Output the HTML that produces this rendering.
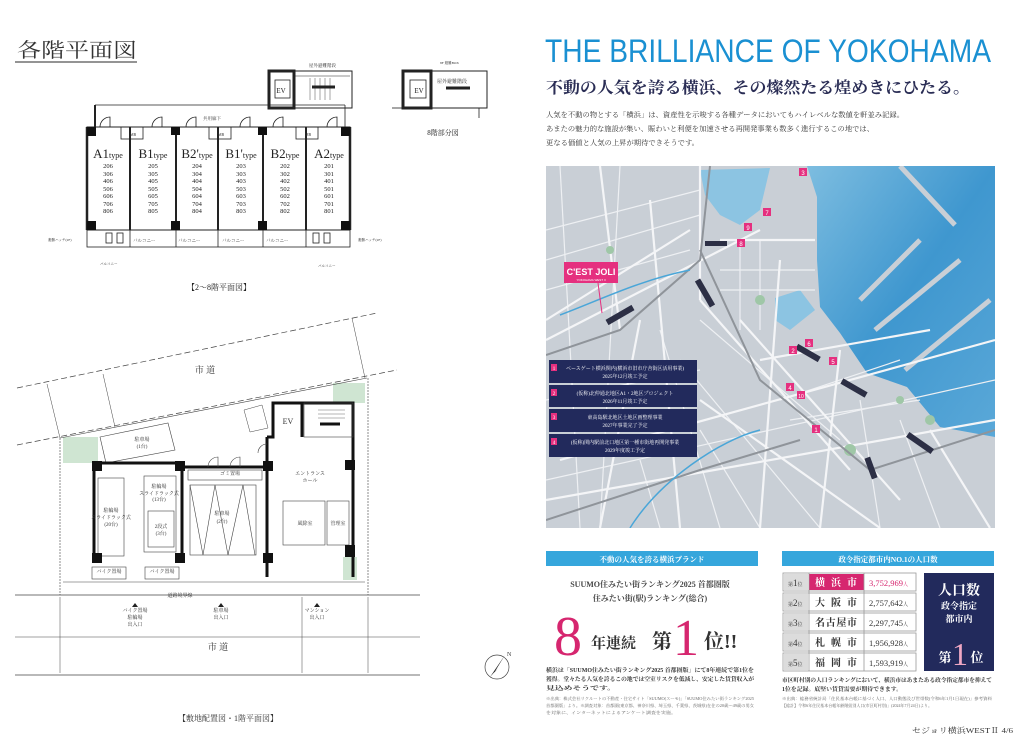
<!DOCTYPE html>
<html><head><meta charset="utf-8"><style>
body{margin:0;width:1028px;height:744px;background:#fff;overflow:hidden;position:relative;font-family:"Liberation Serif","Noto Serif CJK SC",serif;color:#333}
svg{position:absolute;left:0;top:0}
.s{font-family:"Liberation Serif","Noto Serif CJK SC",serif}
</style></head><body>
<svg width="1028" height="744" viewBox="0 0 1028 744" xmlns="http://www.w3.org/2000/svg">
<text x="17" y="57" class="s" font-size="20" fill="#333" textLength="120" lengthAdjust="spacingAndGlyphs">各階平面図</text>
<line x1="15" y1="62" x2="137" y2="62" stroke="#555" stroke-width="1.2"/>

<g stroke="#222" fill="none">
 <rect x="269" y="71" width="83" height="37" stroke-width="1"/>
 <rect x="269" y="71" width="25" height="37" stroke-width="3"/>
 <rect x="275" y="80" width="15" height="18" stroke-width="0.8"/>
 <line x1="312" y1="87" x2="335" y2="87" stroke-width="3"/>
 <g stroke-width="0.4"><line x1="310" y1="78" x2="310" y2="100"/><line x1="315" y1="78" x2="315" y2="100"/><line x1="320" y1="78" x2="320" y2="100"/><line x1="325" y1="78" x2="325" y2="100"/><line x1="330" y1="78" x2="330" y2="100"/></g>
 <line x1="294" y1="76" x2="350" y2="76" stroke-width="0.5"/>
 <line x1="95" y1="105" x2="345" y2="105" stroke-width="0.8"/>
 <line x1="95" y1="105" x2="95" y2="127" stroke-width="2"/>
 <line x1="345" y1="105" x2="345" y2="127" stroke-width="0.8"/>
 <rect x="87" y="127" width="263" height="103" stroke-width="1"/>
 <rect x="87" y="230" width="263" height="17" stroke-width="0.8"/>
 <line x1="87" y1="127" x2="87" y2="230" stroke-width="2.5"/>
 <line x1="350" y1="127" x2="350" y2="230" stroke-width="2.5"/>
 <g stroke-width="2">
  <line x1="130" y1="127" x2="130" y2="230"/><line x1="176" y1="127" x2="176" y2="230"/>
  <line x1="218" y1="127" x2="218" y2="230"/><line x1="263" y1="127" x2="263" y2="230"/>
  <line x1="306" y1="127" x2="306" y2="230"/>
 </g>
 <g stroke-width="0.8">
  <rect x="121" y="127" width="22" height="12"/><rect x="209" y="127" width="22" height="12"/><rect x="296" y="127" width="22" height="12"/>
  <line x1="130" y1="230" x2="130" y2="247"/><line x1="176" y1="230" x2="176" y2="247"/><line x1="218" y1="230" x2="218" y2="247"/><line x1="263" y1="230" x2="263" y2="247"/><line x1="306" y1="230" x2="306" y2="247"/>
  <path d="M100 127 A10 10 0 0 1 110 117 L110 127"/><path d="M152 127 A10 10 0 0 1 162 117 L162 127"/>
  <path d="M186 127 A10 10 0 0 1 196 117 L196 127"/><path d="M240 127 A10 10 0 0 1 250 117 L250 127"/>
  <path d="M273 127 A10 10 0 0 1 283 117 L283 127"/><path d="M327 127 A10 10 0 0 1 337 117 L337 127"/>
  <rect x="106" y="233" width="6" height="10"/><rect x="117" y="233" width="6" height="10"/><rect x="313" y="233" width="6" height="10"/><rect x="324" y="233" width="6" height="10"/>
 </g>
</g>
<g fill="#111">
 <rect x="87" y="127" width="9" height="9"/><rect x="341" y="127" width="9" height="9"/>
 <rect x="87" y="221" width="9" height="9"/><rect x="341" y="221" width="9" height="9"/>
 <rect x="171" y="127" width="9" height="8"/><rect x="258" y="127" width="9" height="8"/>
 <rect x="171" y="221" width="9" height="9"/><rect x="258" y="221" width="9" height="9"/>
</g>
<g class="s" font-size="4.5" fill="#333">
 <text x="130" y="136" font-size="4">MB</text><text x="218" y="136" font-size="4">MB</text><text x="305" y="136" font-size="4">MB</text>
 <text x="203" y="120">共用廊下</text>
 <text x="309" y="67">屋外避難階段</text>
 <text x="133" y="242">バルコニー</text><text x="178" y="242">バルコニー</text><text x="222" y="242">バルコニー</text><text x="266" y="242">バルコニー</text>
 <text x="48" y="241" font-size="3.5">避難ハッチ(2F)</text><text x="358" y="241" font-size="3.5">避難ハッチ(2F)</text>
 <text x="100" y="265" font-size="3.5">バルコニー</text><text x="318" y="267" font-size="3.5">バルコニー</text>
</g>
<g class="s" fill="#222" text-anchor="middle">
 <g font-size="13"><text x="108" y="158">A1<tspan font-size="8">type</tspan></text><text x="153" y="158">B1<tspan font-size="8">type</tspan></text><text x="197" y="158">B2'<tspan font-size="8">type</tspan></text><text x="241" y="158">B1'<tspan font-size="8">type</tspan></text><text x="285" y="158">B2<tspan font-size="8">type</tspan></text><text x="329" y="158">A2<tspan font-size="8">type</tspan></text></g>
 <g font-size="6.5">
  <text x="108" y="168">206</text><text x="108" y="176">306</text><text x="108" y="183">406</text><text x="108" y="191">506</text><text x="108" y="198">606</text><text x="108" y="206">706</text><text x="108" y="213">806</text>
  <text x="153" y="168">205</text><text x="153" y="176">305</text><text x="153" y="183">405</text><text x="153" y="191">505</text><text x="153" y="198">605</text><text x="153" y="206">705</text><text x="153" y="213">805</text>
  <text x="197" y="168">204</text><text x="197" y="176">304</text><text x="197" y="183">404</text><text x="197" y="191">504</text><text x="197" y="198">604</text><text x="197" y="206">704</text><text x="197" y="213">804</text>
  <text x="241" y="168">203</text><text x="241" y="176">303</text><text x="241" y="183">403</text><text x="241" y="191">503</text><text x="241" y="198">603</text><text x="241" y="206">703</text><text x="241" y="213">803</text>
  <text x="285" y="168">202</text><text x="285" y="176">302</text><text x="285" y="183">402</text><text x="285" y="191">502</text><text x="285" y="198">602</text><text x="285" y="206">702</text><text x="285" y="213">802</text>
  <text x="329" y="168">201</text><text x="329" y="176">301</text><text x="329" y="183">401</text><text x="329" y="191">501</text><text x="329" y="198">601</text><text x="329" y="206">701</text><text x="329" y="213">801</text>
 </g>
 <text x="281" y="93" font-size="7">EV</text>
 <text x="419" y="93" font-size="7">EV</text>
 <text x="443" y="135" font-size="7">8階部分図</text>
 <text x="219" y="290" font-size="8">【2～8階平面図】</text>
</g>
<g stroke="#222" fill="none">
 <rect x="403" y="71" width="84" height="37" stroke-width="1"/>
 <rect x="403" y="71" width="28" height="37" stroke-width="3"/>
 <rect x="410" y="80" width="16" height="18" stroke-width="0.8"/>
 <line x1="446" y1="88" x2="470" y2="88" stroke-width="3"/>
 <line x1="392" y1="108" x2="403" y2="108" stroke-width="0.8"/>
 <line x1="479" y1="108" x2="479" y2="118" stroke-width="0.8"/>
</g>
<text x="437" y="83" class="s" font-size="5" fill="#333">屋外避難階段</text>
<text x="440" y="64" class="s" font-size="3.5" fill="#333">8F 避難BOX</text>

<g fill="#cfe5d2">
 <rect x="63" y="437" width="35" height="26"/><rect x="333" y="383" width="32" height="20"/><rect x="343" y="557" width="14" height="23"/>
</g>
<g stroke="#444" fill="none">
 <line x1="17" y1="388" x2="377" y2="313" stroke-dasharray="6 3" stroke-width="0.7"/>
 <line x1="17" y1="445" x2="397" y2="370" stroke-dasharray="6 3" stroke-width="0.7"/>
 <line x1="60" y1="438" x2="367" y2="378" stroke-width="0.6"/>
 <line x1="60" y1="438" x2="60" y2="595" stroke-width="0.6" stroke-dasharray="2 1"/>
 <line x1="368" y1="378" x2="368" y2="595" stroke-width="0.6" stroke-dasharray="2 1"/>
 <line x1="63" y1="582" x2="365" y2="582" stroke-width="0.5"/>
 <line x1="15" y1="595" x2="420" y2="595" stroke-width="0.8"/>
 <line x1="15" y1="637" x2="420" y2="637" stroke-width="0.6"/>
 <line x1="15" y1="675" x2="420" y2="675" stroke-width="0.8"/>
 <line x1="60" y1="597" x2="60" y2="673" stroke-width="0.5"/><line x1="302" y1="597" x2="302" y2="673" stroke-width="0.5"/><line x1="368" y1="597" x2="368" y2="673" stroke-width="0.5"/>
 <line x1="47" y1="384" x2="60" y2="438" stroke-width="0.5"/><line x1="103" y1="374" x2="115" y2="427" stroke-width="0.5"/><line x1="352" y1="318" x2="365" y2="378" stroke-width="0.5"/>
 <polygon points="100,437 168,423 175,450 106,463" stroke-width="0.6"/>
 <polygon points="244,410 262,405 268,428 250,432" stroke-width="0.5"/>
 <g stroke="#111" stroke-width="3">
  <polyline points="94,563 94,463 182,463 182,563"/>
  <polyline points="182,467 267,467 267,563"/>
  <polyline points="267,437 267,470"/>
  <polyline points="267,437 273,437 273,403 353,403 353,577"/>
  <polyline points="267,577 267,510"/>
  <line x1="302" y1="403" x2="302" y2="437"/>
 </g>
 <line x1="320" y1="424" x2="340" y2="424" stroke="#111" stroke-width="3"/>
 <g stroke-width="0.4"><line x1="318" y1="410" x2="345" y2="410"/><line x1="318" y1="414" x2="345" y2="414"/><line x1="318" y1="418" x2="345" y2="418"/></g>
 <g stroke-width="0.6">
  <rect x="98" y="478" width="26" height="78"/><rect x="144" y="476" width="32" height="76"/><rect x="148" y="511" width="26" height="36"/>
  <rect x="188" y="470" width="74" height="10"/>
  <rect x="92" y="567" width="34" height="12"/><rect x="145" y="567" width="34" height="12"/>
  <polyline points="190,485 203,555 215,485 228,555 243,485 255,555"/>
  <rect x="190" y="485" width="66" height="70"/>
  <rect x="283" y="501" width="42" height="44"/><rect x="327" y="501" width="22" height="44"/>
  <rect x="304" y="403" width="49" height="34"/>
  <path d="M208 467 A10 10 0 0 1 218 457 L218 467 M230 467 A10 10 0 0 1 240 457 L240 467 M258 453 A9 9 0 0 1 267 444"/>
 </g>
</g>
<g fill="#111"><rect x="92" y="461" width="10" height="10"/><rect x="92" y="553" width="10" height="10"/><rect x="175" y="461" width="10" height="10"/><rect x="175" y="553" width="10" height="10"/><rect x="263" y="461" width="10" height="10"/><rect x="263" y="553" width="10" height="10"/><rect x="345" y="460" width="10" height="10"/><rect x="345" y="545" width="10" height="12"/></g>
<g class="s" fill="#333" text-anchor="middle" font-size="5">
 <text x="205" y="373" font-size="9">市 道</text>
 <text x="218" y="650" font-size="9">市 道</text>
 <text x="288" y="424" font-size="8">EV</text>
 <text x="142" y="441">駐車場</text><text x="142" y="448">(1台)</text>
 <text x="230" y="475">ゴミ置場</text>
 <text x="111" y="512">駐輪場</text><text x="111" y="519">スライドラック式</text><text x="111" y="526">(20台)</text>
 <text x="159" y="488">駐輪場</text><text x="159" y="495">スライドラック式</text><text x="159" y="501">(13台)</text>
 <text x="161" y="528">2段式</text><text x="161" y="535">(3台)</text>
 <text x="222" y="515">駐車場</text><text x="222" y="523">(2台)</text>
 <text x="310" y="475">エントランス</text><text x="310" y="482">ホール</text>
 <text x="305" y="525">風除室</text><text x="338" y="525">管理室</text>
 <text x="109" y="573">バイク置場</text><text x="162" y="573">バイク置場</text>
 <text x="135" y="612">バイク置場</text><text x="135" y="619">駐輪場</text><text x="135" y="626">出入口</text>
 <text x="221" y="612">駐車場</text><text x="221" y="619">出入口</text>
 <text x="317" y="612">マンション</text><text x="317" y="619">出入口</text>
 <text x="180" y="597">道路境界線</text>
 <text x="228" y="721" font-size="8">【敷地配置図・1階平面図】</text>
</g>
<g fill="#222"><polygon points="135,603 132,607 138,607"/><polygon points="221,603 218,607 224,607"/><polygon points="317,603 314,607 320,607"/></g>
<circle cx="497" cy="667" r="12" fill="none" stroke="#444" stroke-width="0.7"/>
<polygon points="505,655 494,673 498,668 490,677" fill="#222"/>
<text x="507" y="656" font-size="6" fill="#333">N</text>

<text x="545" y="62" font-family="Liberation Sans,sans-serif" font-size="32" fill="#1a90d2" textLength="446" lengthAdjust="spacingAndGlyphs">THE BRILLIANCE OF YOKOHAMA</text>
<text x="546" y="93" class="s" font-size="16" font-weight="bold" fill="#2a2d55" textLength="424" lengthAdjust="spacingAndGlyphs">不動の人気を誇る横浜、その燦然たる煌めきにひたる。</text>
<g class="s" font-size="7" fill="#333">
 <text x="546" y="117" textLength="358" lengthAdjust="spacingAndGlyphs">人気を不動の物とする「横浜」は、資産性を示唆する各種データにおいてもハイレベルな数値を軒並み記録。</text>
 <text x="546" y="131" textLength="328" lengthAdjust="spacingAndGlyphs">あまたの魅力的な施設が集い、賑わいと利便を加速させる再開発事業も数多く進行するこの地では、</text>
 <text x="546" y="145" textLength="153" lengthAdjust="spacingAndGlyphs">更なる価値と人気の上昇が期待できそうです。</text>
</g>

<defs><linearGradient id="w" x1="0" y1="0" x2="1" y2="1"><stop offset="0" stop-color="#7dbde0"/><stop offset="0.5" stop-color="#3f97cf"/><stop offset="1" stop-color="#5aa8d8"/></linearGradient>
<clipPath id="mc"><rect x="546" y="166" width="449" height="362"/></clipPath></defs>
<g clip-path="url(#mc)">
 <rect x="546" y="166" width="449" height="362" fill="#c9cfd6"/>
 <polygon points="807,166 995,166 995,437 940,427 907,387 867,373 840,333 820,307 817,260 817,197" fill="url(#w)"/>
 <polygon points="700,170 770,168 760,210 740,225 720,215 705,195" fill="#8cc4e2"/>
 <polygon points="775,298 800,290 815,310 790,330 775,320" fill="#8cc4e2"/>
 <g stroke="#c9cfd6" stroke-width="5"><line x1="900" y1="166" x2="955" y2="225"/><line x1="860" y1="300" x2="920" y2="240"/><line x1="875" y1="330" x2="960" y2="260"/><line x1="905" y1="370" x2="990" y2="300"/></g>
 <g stroke="#eef0f3" stroke-width="1.2" fill="none">
  <line x1="546" y1="230" x2="700" y2="190"/><line x1="546" y1="260" x2="700" y2="215"/><line x1="546" y1="290" x2="690" y2="250"/>
  <line x1="560" y1="166" x2="580" y2="528"/><line x1="620" y1="166" x2="600" y2="528"/><line x1="660" y1="330" x2="720" y2="528"/>
  <line x1="546" y1="480" x2="995" y2="380"/><line x1="680" y1="360" x2="820" y2="528"/><line x1="700" y1="320" x2="840" y2="440"/>
  <line x1="720" y1="270" x2="815" y2="270"/><line x1="720" y1="290" x2="815" y2="290"/><line x1="740" y1="240" x2="740" y2="330"/><line x1="760" y1="240" x2="760" y2="330"/>
  <line x1="780" y1="400" x2="900" y2="360"/><line x1="790" y1="420" x2="920" y2="400"/><line x1="860" y1="400" x2="880" y2="528"/><line x1="900" y1="420" x2="940" y2="528"/>
  <line x1="546" y1="400" x2="700" y2="370"/><line x1="700" y1="430" x2="760" y2="528"/><line x1="640" y1="460" x2="660" y2="528"/>
 </g>
 <g stroke="#f4f5f7" stroke-width="2.2" fill="none">
  <line x1="546" y1="340" x2="760" y2="230"/><line x1="546" y1="320" x2="690" y2="230"/>
  <line x1="700" y1="166" x2="700" y2="300"/><line x1="700" y1="300" x2="850" y2="470"/>
  <line x1="600" y1="166" x2="620" y2="330"/><line x1="650" y1="200" x2="680" y2="528"/>
  <line x1="560" y1="460" x2="995" y2="340"/><line x1="546" y1="500" x2="995" y2="420"/>
  <line x1="720" y1="240" x2="815" y2="240"/><line x1="740" y1="320" x2="900" y2="500"/>
  <line x1="760" y1="360" x2="930" y2="330"/><line x1="700" y1="400" x2="880" y2="528"/>
  <line x1="780" y1="260" x2="760" y2="528"/><line x1="600" y1="528" x2="640" y2="320"/>
  <line x1="840" y1="350" x2="820" y2="528"/><line x1="930" y1="430" x2="990" y2="528"/>
 </g>
 <g fill="#9fc7a7"><circle cx="610" cy="250" r="4"/><circle cx="760" cy="300" r="5"/><circle cx="850" cy="450" r="6"/><circle cx="900" cy="400" r="4"/><circle cx="930" cy="420" r="5"/></g>
 <g stroke="#8f949a" stroke-width="2" fill="none">
  <path d="M546 355 L620 330 L700 260 L710 166"/><path d="M700 250 L760 380 L870 470 L995 430"/><path d="M546 520 L700 470 L800 440"/>
 </g>
 <g stroke="#4aa6d8" stroke-width="1.5" fill="none"><path d="M560 315 C600 300 640 280 690 270"/><path d="M630 528 C660 480 720 440 760 430"/></g>
 <g fill="#2c2f45"><rect x="605" y="312" width="30" height="6" transform="rotate(-30 620 315)"/><rect x="690" y="290" width="30" height="6" transform="rotate(60 705 293)"/><rect x="795" y="350" width="26" height="6" transform="rotate(30 808 353)"/><rect x="840" y="385" width="28" height="6" transform="rotate(30 854 388)"/><rect x="905" y="440" width="30" height="6" transform="rotate(35 920 443)"/><rect x="705" y="241" width="22" height="5"/><rect x="860" y="465" width="22" height="6" transform="rotate(70 871 468)"/></g>
 <g fill="#222a5c"><rect x="549" y="360" width="148" height="23"/><rect x="549" y="385" width="148" height="22"/><rect x="549" y="409" width="148" height="23"/><rect x="549" y="434" width="148" height="23"/></g>
 <g fill="#e5307f"><rect x="551" y="364" width="6" height="7"/><rect x="551" y="389" width="6" height="7"/><rect x="551" y="413" width="6" height="7"/><rect x="551" y="438" width="6" height="7"/></g>
 <g font-family="Liberation Serif,Noto Serif CJK SC,serif" font-size="5" fill="#fff" text-anchor="middle">
  <text x="554" y="370">1</text><text x="554" y="395">2</text><text x="554" y="419">3</text><text x="554" y="444">4</text>
  <text x="625" y="370">ベースゲート横浜関内(横浜市旧市庁舎街区活用事業)</text><text x="625" y="378">2025年12月竣工予定</text>
  <text x="625" y="395">(仮称)北仲通北地区A1・2地区プロジェクト</text><text x="625" y="403">2026年11月竣工予定</text>
  <text x="625" y="419">東高島駅北地区土地区画整理事業</text><text x="625" y="427">2027年事業完了予定</text>
  <text x="625" y="444">(仮称)関内駅前北口地区第一種市街地再開発事業</text><text x="625" y="452">2029年度竣工予定</text>
 </g>
 <g fill="#e5307f"><rect x="799" y="168" width="8" height="8"/><rect x="763" y="208" width="8" height="8"/><rect x="744" y="223" width="8" height="8"/><rect x="737" y="239" width="8" height="8"/><rect x="805" y="339" width="8" height="8"/><rect x="789" y="346" width="8" height="8"/><rect x="829" y="357" width="8" height="8"/><rect x="786" y="383" width="8" height="8"/><rect x="797" y="391" width="8" height="8"/><rect x="812" y="425" width="8" height="8"/></g>
 <g font-size="6" fill="#fff" text-anchor="middle" font-family="Liberation Sans,sans-serif"><text x="803" y="175">3</text><text x="767" y="215">7</text><text x="748" y="230">9</text><text x="741" y="246">8</text><text x="809" y="346">6</text><text x="793" y="353">2</text><text x="833" y="364">5</text><text x="790" y="390">4</text><text x="801" y="398" font-size="5">10</text><text x="816" y="432">1</text></g>
 <rect x="564" y="262" width="54" height="21" fill="#e5307f"/>
 <line x1="598" y1="283" x2="602" y2="313" stroke="#e5307f" stroke-width="1"/>
 <text x="591" y="275" font-family="Liberation Sans,sans-serif" font-size="9" fill="#fff" text-anchor="middle" font-weight="bold">C'EST JOLI</text>
 <text x="591" y="281" font-family="Liberation Sans,sans-serif" font-size="3" fill="#fff" text-anchor="middle">YOKOHAMA WEST II</text>
</g>

<rect x="546" y="551" width="212" height="15" fill="#35a6dc"/>
<text x="652" y="562" class="s" font-size="7.5" fill="#fff" text-anchor="middle" font-weight="bold">不動の人気を誇る横浜ブランド</text>
<text x="650" y="587" class="s" font-size="8" fill="#444" text-anchor="middle" font-weight="bold">SUUMO住みたい街ランキング2025 首都圏版</text>
<text x="650" y="601" class="s" font-size="8" fill="#444" text-anchor="middle" font-weight="bold">住みたい街(駅)ランキング(総合)</text>
<text x="554" y="655" class="s" font-size="56" fill="#d6266f">8</text>
<text x="591" y="648" class="s" font-size="15" fill="#333" font-weight="bold">年連続</text>
<text x="652" y="648" class="s" font-size="20" fill="#333" font-weight="bold">第</text>
<text x="673" y="655" class="s" font-size="52" fill="#d6266f">1</text>
<text x="704" y="648" class="s" font-size="20" fill="#333" font-weight="bold">位!!</text>
<g class="s" font-size="5.8" fill="#333" font-weight="bold">
 <text x="546" y="672" textLength="208" lengthAdjust="spacingAndGlyphs">横浜は「SUUMO住みたい街ランキング2025 首都圏版」にて8年連続で第1位を</text>
 <text x="546" y="681" textLength="208" lengthAdjust="spacingAndGlyphs">獲得。堂々たる人気を誇るこの地では空室リスクを低減し、安定した賃貸収入が</text>
 <text x="546" y="690" textLength="70" lengthAdjust="spacingAndGlyphs">見込めそうです。</text>
</g>
<g class="s" font-size="4" fill="#666">
 <text x="546" y="700" textLength="208" lengthAdjust="spacingAndGlyphs">※出典：株式会社リクルートの不動産・住宅サイト「SUUMO(スーモ)」「SUUMO住みたい街ランキング2025</text>
 <text x="546" y="707" textLength="208" lengthAdjust="spacingAndGlyphs">首都圏版」より。※調査対象：首都圏(東京都、神奈川県、埼玉県、千葉県、茨城県)在住の20歳～49歳の男女</text>
 <text x="546" y="714" textLength="130" lengthAdjust="spacingAndGlyphs">を対象に、インターネットによるアンケート調査を実施。</text>
</g>

<rect x="782" y="551" width="212" height="15" fill="#35a6dc"/>
<text x="888" y="562" class="s" font-size="7.5" fill="#fff" text-anchor="middle" font-weight="bold">政令指定都市内NO.1の人口数</text>
<g stroke="#999" stroke-width="0.8" fill="#fff">
 <rect x="783" y="573" width="133" height="18"/><rect x="783" y="593" width="133" height="18"/><rect x="783" y="613" width="133" height="18"/><rect x="783" y="633" width="133" height="18"/><rect x="783" y="653" width="133" height="18"/>
</g>
<g fill="#dcdcdc"><rect x="784" y="574" width="24" height="16"/><rect x="784" y="594" width="24" height="16"/><rect x="784" y="614" width="24" height="16"/><rect x="784" y="634" width="24" height="16"/><rect x="784" y="654" width="24" height="16"/></g>
<rect x="809" y="574" width="55" height="16" fill="#d6266f"/>
<g stroke="#999" stroke-width="0.8"><line x1="864" y1="573" x2="864" y2="671"/><line x1="809" y1="573" x2="809" y2="671"/></g>
<g class="s" fill="#333">
 <g font-size="9"><text x="788" y="586"><tspan font-size="5">第</tspan>1<tspan font-size="5">位</tspan></text><text x="788" y="606"><tspan font-size="5">第</tspan>2<tspan font-size="5">位</tspan></text><text x="788" y="626"><tspan font-size="5">第</tspan>3<tspan font-size="5">位</tspan></text><text x="788" y="646"><tspan font-size="5">第</tspan>4<tspan font-size="5">位</tspan></text><text x="788" y="666"><tspan font-size="5">第</tspan>5<tspan font-size="5">位</tspan></text></g>
 <g font-size="10" font-weight="bold"><text x="815" y="586" fill="#fff" textLength="42">横浜市</text><text x="815" y="606" textLength="42">大阪市</text><text x="815" y="626" textLength="42">名古屋市</text><text x="815" y="646" textLength="42">札幌市</text><text x="815" y="666" textLength="42">福岡市</text></g>
 <g font-size="8.5"><text x="869" y="586" fill="#d6266f">3,752,969<tspan font-size="5">人</tspan></text><text x="869" y="606">2,757,642<tspan font-size="5">人</tspan></text><text x="869" y="626">2,297,745<tspan font-size="5">人</tspan></text><text x="869" y="646">1,956,928<tspan font-size="5">人</tspan></text><text x="869" y="666">1,593,919<tspan font-size="5">人</tspan></text></g>
</g>
<rect x="924" y="573" width="70" height="98" fill="#222a5c"/>
<g class="s" fill="#fff" text-anchor="middle" font-weight="bold">
 <text x="959" y="595" font-size="14">人口数</text>
 <text x="959" y="609" font-size="9">政令指定</text>
 <text x="959" y="622" font-size="9">都市内</text>
 <text x="945" y="662" font-size="13">第</text>
 <text x="960" y="665" font-size="32" fill="#f0a8c4" font-weight="normal">1</text>
 <text x="977" y="662" font-size="13">位</text>
</g>
<g class="s" font-size="5.8" fill="#333" font-weight="bold">
 <text x="782" y="682" textLength="210" lengthAdjust="spacingAndGlyphs">市区町村別の人口ランキングにおいて、横浜市はあまたある政令指定都市を抑えて</text>
 <text x="782" y="691" textLength="120" lengthAdjust="spacingAndGlyphs">1位を記録。底堅い賃貸需要が期待できます。</text>
</g>
<g class="s" font-size="4" fill="#666">
 <text x="782" y="700" textLength="210" lengthAdjust="spacingAndGlyphs">※出典：総務省統計局「住民基本台帳に基づく人口、人口動態及び世帯数(令和6年1月1日現在)」参考資料</text>
 <text x="782" y="707" textLength="150" lengthAdjust="spacingAndGlyphs">【総計】令和6年住民基本台帳年齢階級別人口(市区町村別)」(2024年7月24日)より。</text>
</g>
<text x="912" y="733" class="s" font-size="7.5" fill="#333" textLength="101" lengthAdjust="spacingAndGlyphs">セジョリ横浜WESTⅡ 4/6</text>
</svg>
</body></html>
